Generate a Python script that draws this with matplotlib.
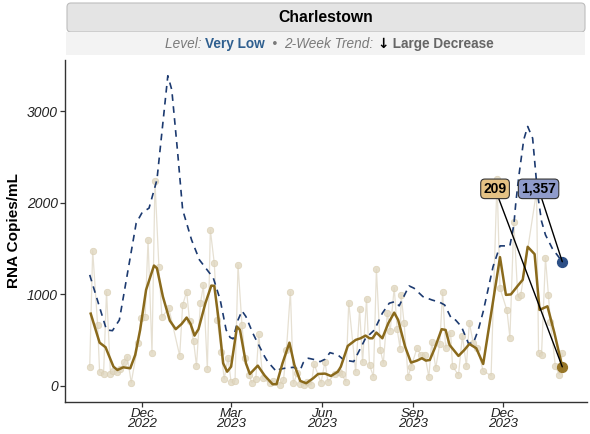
import numpy as np
import pandas as pd
import matplotlib
matplotlib.use("Agg")
import matplotlib.pyplot as plt
import matplotlib.dates as mdates
from matplotlib.patches import FancyBboxPatch, Rectangle

plt.rcParams['font.family'] = ['Liberation Sans', 'DejaVu Sans']

# raw samples
raw_dates = [
    "2022-10-09", "2022-10-12", "2022-10-17", "2022-10-19", "2022-10-23", "2022-10-26",
    "2022-10-30", "2022-11-02", "2022-11-06", "2022-11-09", "2022-11-13", "2022-11-16",
    "2022-11-20", "2022-11-27", "2022-11-30", "2022-12-04", "2022-12-07", "2022-12-11",
    "2022-12-14", "2022-12-18", "2022-12-21", "2022-12-28", "2023-01-08", "2023-01-11",
    "2023-01-15", "2023-01-18", "2023-01-22", "2023-01-25", "2023-01-29", "2023-02-01",
    "2023-02-05", "2023-02-08", "2023-02-12", "2023-02-15", "2023-02-19", "2023-02-22",
    "2023-02-26", "2023-03-01", "2023-03-05", "2023-03-08", "2023-03-12", "2023-03-15",
    "2023-03-19", "2023-03-22", "2023-03-26", "2023-03-29", "2023-04-02", "2023-04-09",
    "2023-04-12", "2023-04-19", "2023-04-23", "2023-04-26", "2023-04-30", "2023-05-03",
    "2023-05-07", "2023-05-10", "2023-05-14", "2023-05-17", "2023-05-21", "2023-05-24",
    "2023-05-31", "2023-06-04", "2023-06-07", "2023-06-14", "2023-06-18", "2023-06-21",
    "2023-06-25", "2023-06-28", "2023-07-05", "2023-07-09", "2023-07-12", "2023-07-16",
    "2023-07-19", "2023-07-23", "2023-07-26", "2023-07-30", "2023-08-02", "2023-08-06",
    "2023-08-09", "2023-08-13", "2023-08-16", "2023-08-19", "2023-08-20", "2023-08-23",
    "2023-08-27", "2023-08-30", "2023-09-05", "2023-09-09", "2023-09-13", "2023-09-17",
    "2023-09-20", "2023-09-24", "2023-09-28", "2023-10-01", "2023-10-04", "2023-10-09",
    "2023-10-11", "2023-10-17", "2023-10-21", "2023-10-25", "2023-10-28", "2023-11-01",
    "2023-11-05", "2023-11-11", "2023-11-19", "2023-11-25", "2023-11-28", "2023-12-05",
    "2023-12-08", "2023-12-12", "2023-12-16", "2023-12-19", "2024-01-04", "2024-01-06",
    "2024-01-09", "2024-01-13", "2024-01-16", "2024-01-18", "2024-01-23", "2024-01-27",
    "2024-01-30",
]
raw_values = [
    211, 1479, 667, 153, 128, 1031,
    135, 164, 153, 182, 259, 320,
    36, 467, 740, 758, 1593, 364,
    2237, 1297, 751, 849, 331, 882,
    1031, 714, 495, 222, 904, 1100,
    180, 1705, 1340, 725, 375, 77,
    309, 40, 57, 1322, 667, 310,
    120, 35, 75, 565, 84, 33,
    58, 15, 62, 398, 1031, 30,
    139, 25, 15, 38, 11, 237,
    36, 266, 44, 131, 156, 128,
    47, 911, 156, 838, 259, 951,
    230, 102, 1275, 390, 251, 795,
    605, 1074, 620, 404, 995, 685,
    102, 204, 412, 336, 339, 98,
    481, 197, 456, 1024, 412, 583,
    215, 120, 550, 215, 692, 467,
    419, 164, 113, 2255, 1068, 827,
    528, 1787, 975, 995, 2130, 364,
    340, 1400, 990, 700, 215, 125,
    357,
]

# smoothed trend (solid brown)
trend_dates = [
    "2022-10-10", "2022-10-19", "2022-10-25", "2022-11-02", "2022-11-06", "2022-11-12",
    "2022-11-19", "2022-11-24", "2022-11-29", "2022-12-05", "2022-12-13", "2022-12-16",
    "2022-12-22", "2022-12-29", "2023-01-04", "2023-01-10", "2023-01-15", "2023-01-19",
    "2023-01-23", "2023-01-27", "2023-02-03", "2023-02-09", "2023-02-12", "2023-02-16",
    "2023-02-21", "2023-02-25", "2023-03-01", "2023-03-07", "2023-03-10", "2023-03-16",
    "2023-03-20", "2023-03-28", "2023-04-04", "2023-04-12", "2023-04-16", "2023-04-22",
    "2023-04-29", "2023-05-04", "2023-05-10", "2023-05-16", "2023-05-23", "2023-05-28",
    "2023-06-04", "2023-06-10", "2023-06-17", "2023-06-20", "2023-06-27", "2023-07-05",
    "2023-07-10", "2023-07-15", "2023-07-19", "2023-07-22", "2023-07-26", "2023-08-01",
    "2023-08-07", "2023-08-13", "2023-08-17", "2023-08-24", "2023-08-30", "2023-09-05",
    "2023-09-10", "2023-09-14", "2023-09-18", "2023-09-23", "2023-09-30", "2023-10-04",
    "2023-10-08", "2023-10-17", "2023-10-23", "2023-10-28", "2023-11-04", "2023-11-11",
    "2023-11-28", "2023-12-04", "2023-12-09", "2023-12-16", "2023-12-21", "2023-12-26",
    "2024-01-02", "2024-01-07", "2024-01-15", "2024-01-22", "2024-01-30",
]
trend_values = [
    790, 473, 423, 211, 175, 204,
    193, 339, 612, 1049, 1315, 1286,
    976, 714, 620, 678, 747, 678,
    550, 620, 904, 1096, 1093, 758,
    248, 156, 211, 648, 612, 248,
    131, 222, 113, 19, 19, 248,
    473, 230, 55, 30, 84, 131,
    135, 109, 156, 211, 437, 503,
    521, 550, 521, 521, 583, 521,
    685, 801, 721, 430, 255, 277,
    303, 277, 284, 412, 620, 612,
    448, 328, 394, 459, 412, 240,
    1407, 995, 1000, 1095, 1160, 1520,
    1440, 831, 870, 580, 209,
]

# comparison series (navy dashed)
comp_dates = [
    "2022-10-09", "2022-10-26", "2022-11-01", "2022-11-08", "2022-11-25", "2022-12-01",
    "2022-12-08", "2022-12-16", "2022-12-27", "2022-12-31", "2023-01-06", "2023-01-11",
    "2023-01-20", "2023-01-28", "2023-02-11", "2023-02-18", "2023-02-24", "2023-02-28",
    "2023-03-03", "2023-03-08", "2023-03-12", "2023-03-16", "2023-03-23", "2023-03-28",
    "2023-04-04", "2023-04-07", "2023-04-16", "2023-04-19", "2023-04-24", "2023-05-03",
    "2023-05-10", "2023-05-13", "2023-05-18", "2023-05-26", "2023-05-30", "2023-06-04",
    "2023-06-09", "2023-06-17", "2023-06-23", "2023-07-03", "2023-07-15", "2023-07-24",
    "2023-08-01", "2023-08-08", "2023-08-14", "2023-08-18", "2023-08-28", "2023-09-02",
    "2023-09-11", "2023-09-20", "2023-09-28", "2023-10-03", "2023-10-10", "2023-10-14",
    "2023-10-20", "2023-10-27", "2023-11-01", "2023-11-06", "2023-11-11", "2023-11-21",
    "2023-11-28", "2023-12-08", "2023-12-12", "2023-12-14", "2023-12-17", "2023-12-22",
    "2023-12-26", "2023-12-31", "2024-01-05", "2024-01-09", "2024-01-13", "2024-01-20",
    "2024-01-30",
]
comp_values = [
    1213, 612, 604, 721, 1778, 1894,
    1942, 2252, 3388, 3235, 2543, 1924,
    1596, 1377, 1180, 940, 612, 530,
    515, 721, 820, 758, 576, 467,
    320, 266, 156, 182, 193, 204,
    175, 255, 303, 284, 266, 292,
    364, 339, 284, 266, 521, 612,
    795, 904, 922, 875, 1093, 1068,
    976, 940, 914, 885, 733, 721,
    648, 467, 467, 612, 812, 1304,
    1530, 1530, 1760, 2000, 2288, 2689,
    2834, 2706, 2100, 1800, 1650, 1500,
    1357,
]

raw_dates = pd.to_datetime(raw_dates)
trend_dates = pd.to_datetime(trend_dates)
comp_dates = pd.to_datetime(comp_dates)

fig = plt.figure(figsize=(5.9, 4.34), dpi=100)
ax = fig.add_axes([65 / 590, 1 - 402 / 434, 522 / 590, 342 / 434])

# raw samples
ax.plot(raw_dates, raw_values, color='#e6e0d2', lw=0.9, zorder=1)
ax.scatter(raw_dates, raw_values, s=22, color='#e0d7c0', edgecolor='#d8ccb0',
           linewidth=0.5, alpha=0.8, zorder=2)

# trend lines
ax.plot(comp_dates, comp_values, color='#1c3a70', lw=1.2, dashes=(4, 3.2), zorder=3)
ax.plot(trend_dates, trend_values, color='#8a6a1c', lw=1.8, zorder=4)

# end points
ax.scatter([trend_dates[-1]], [trend_values[-1]], s=50, color='#977628', zorder=6)
ax.scatter([comp_dates[-1]], [comp_values[-1]], s=50, color='#2c4f86', zorder=6)

ax.annotate(f"{trend_values[-1]:,}", xy=(trend_dates[-1], trend_values[-1]),
            xytext=(pd.Timestamp("2023-11-23"), 2153), ha='center', va='center',
            fontsize=10, fontweight='bold', color='black',
            bbox=dict(boxstyle='round,pad=0.2,rounding_size=0.3', fc='#e4c284', ec='#333333', lw=0.8),
            arrowprops=dict(arrowstyle='-', color='black', lw=1.0, shrinkA=0, shrinkB=0),
            zorder=7)
ax.annotate(f"{comp_values[-1]:,}", xy=(comp_dates[-1], comp_values[-1]),
            xytext=(pd.Timestamp("2024-01-06"), 2153), ha='center', va='center',
            fontsize=10, fontweight='bold', color='black',
            bbox=dict(boxstyle='round,pad=0.2,rounding_size=0.3', fc='#8f9bcb', ec='#333333', lw=0.8),
            arrowprops=dict(arrowstyle='-', color='black', lw=1.0, shrinkA=0, shrinkB=0),
            zorder=7)

# axes styling
ax.set_xlim(pd.Timestamp("2022-09-14"), pd.Timestamp("2024-02-24"))
ax.set_ylim(-175, 3560)
ax.set_yticks([0, 1000, 2000, 3000])
ax.set_yticklabels(['0', '1000', '2000', '3000'], fontstyle='italic', fontsize=10, color='#222222')
xticks = pd.to_datetime(["2022-12-01", "2023-03-01", "2023-06-01", "2023-09-01", "2023-12-01"])
ax.set_xticks(xticks)
ax.set_xticklabels([d.strftime('%b\n%Y') for d in xticks], fontstyle='italic',
                   fontsize=9.6, color='#222222', linespacing=0.88)
for s in ['top', 'right']:
    ax.spines[s].set_visible(False)
for s in ['left', 'bottom']:
    ax.spines[s].set_color('#333333')
    ax.spines[s].set_linewidth(1.0)
ax.tick_params(length=3.5, width=0.9, color='#333333', pad=1.5)
ax.tick_params(axis='x', pad=0.5)
ax.set_ylabel('RNA Copies/mL', fontsize=11, fontweight='bold', labelpad=4)

# header strip
header = FancyBboxPatch((0.67, 4.02), 5.18, 0.29, boxstyle='round,pad=0,rounding_size=0.04',
                        transform=fig.dpi_scale_trans, fc='#e4e4e4', ec='#bdbdbd', lw=0.8)
fig.add_artist(header)
sub_bg = Rectangle((0.66, 3.79), 5.19, 0.23, transform=fig.dpi_scale_trans,
                   fc='#f3f3f3', ec='none')
fig.add_artist(sub_bg)
fig.text(3.26 / 5.9, 1 - 18 / 434, 'Charlestown', ha='center', va='center',
         fontsize=11.3, fontweight='bold')

# subtitle, built piece by piece
pieces = [
    ("Level: ", dict(style='italic', color='#7a7a7a')),
    ("Very Low", dict(weight='bold', color='#2f5f8f')),
    ("  \u2022  ", dict(color='#7a7a7a')),
    ("2-Week Trend: ", dict(style='italic', color='#7a7a7a')),
    ("\u2193", dict(weight='bold', color='black', family=['DejaVu Sans'])),
    (" Large Decrease", dict(weight='bold', color='#666666')),
]
renderer = fig.canvas.get_renderer()
texts = []
widths = []
for s, kw in pieces:
    t = fig.text(0, 1 - 44 / 434, s, fontsize=9.8, va='center', ha='left', **kw)
    widths.append(t.get_window_extent(renderer).width)
    texts.append(t)
total = sum(widths)
x = 329 - total / 2
for t, w in zip(texts, widths):
    t.set_x(x / 590)
    x += w

fig.savefig('out.png', dpi=100)
